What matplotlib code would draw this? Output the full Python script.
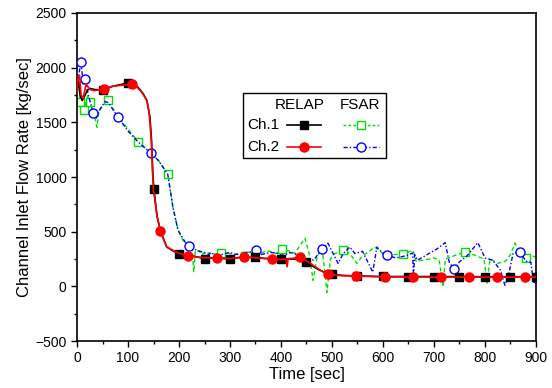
import numpy as np
from matplotlib import pyplot as plt
from matplotlib.lines import Line2D
from matplotlib.patches import Rectangle

plt.rcParams['font.family'] = ['Liberation Sans', 'DejaVu Sans']

# RELAP Ch.1 (black)
t_relap1 = [0, 3, 6, 10, 15, 20, 25, 35, 50, 70, 90, 100, 110, 120, 130, 137, 143, 146, 149, 151, 157,
            164, 176, 190, 200, 215, 230, 250, 270, 300, 320, 350, 370, 398, 420, 435, 449, 460, 475,
            490, 500, 520, 550, 600, 700, 800, 900]
v_relap1 = [1800, 1870, 1750, 1700, 1740, 1790, 1810, 1800, 1795, 1830, 1850, 1860, 1845, 1820, 1760,
            1700, 1550, 1350, 1000, 880, 640, 500, 360, 320, 300, 280, 275, 255, 260, 250, 265, 265,
            255, 250, 250, 245, 225, 190, 150, 120, 110, 100, 95, 90, 90, 88, 88]
tm_relap1 = [50, 100, 150, 200, 250, 300, 350, 400, 450, 500, 550, 600, 650, 700, 750, 800, 850, 900]
vm_relap1 = [1800, 1860, 890, 300, 250, 250, 265, 250, 225, 113, 95, 92, 90, 90, 90, 90, 88, 88]

# RELAP Ch.2 (red)
t_relap2 = [0, 2, 5, 8, 12, 18, 25, 35, 51, 70, 90, 108, 118, 127, 137, 141, 143, 146, 148, 150, 157,
            164, 176, 198, 218, 240, 274, 300, 326, 350, 382, 400, 410, 412, 414, 420, 437, 455, 470,
            485, 492, 510, 549, 600, 700, 800, 900]
v_relap2 = [1780, 1900, 1930, 1750, 1720, 1850, 1800, 1790, 1805, 1830, 1840, 1850, 1820, 1775, 1700,
            1600, 1500, 1300, 1050, 880, 640, 497, 360, 305, 277, 265, 258, 255, 268, 262, 250, 245,
            250, 180, 255, 255, 268, 220, 170, 125, 113, 100, 94, 87, 85, 85, 85]
tm_relap2 = [52, 108, 163, 218, 274, 328, 383, 438, 493, 548, 603, 658, 713, 768, 823, 878]
vm_relap2 = [1805, 1850, 510, 277, 258, 268, 250, 268, 113, 94, 87, 85, 85, 85, 85, 85]

# FSAR Ch.1 (green)
t_fsar1 = [0, 3, 6, 10, 14, 18, 22, 25, 30, 35, 39, 43, 50, 61, 80, 100, 120, 145, 160, 178, 188, 198,
           210, 220, 226, 229, 232, 240, 245, 252, 260, 268, 282, 290, 300, 310, 320, 330, 340, 350,
           360, 370, 380, 390, 402, 410, 420, 428, 435, 447, 455, 463, 470, 480, 490, 497, 505, 515,
           522, 535, 549, 560, 571, 584, 600, 620, 640, 659, 665, 680, 700, 710, 718, 722, 740, 761,
           780, 798, 804, 810, 825, 840, 850, 859, 868, 881, 890, 900]
v_fsar1 = [1800, 1900, 1685, 1720, 1610, 1700, 1750, 1685, 1620, 1550, 1455, 1600, 1650, 1700, 1550,
           1440, 1320, 1218, 1150, 1025, 725, 515, 400, 360, 340, 130, 330, 320, 290, 320, 300, 295,
           305, 320, 300, 290, 305, 315, 310, 295, 300, 325, 320, 300, 343, 330, 320, 300, 360, 440,
           300, 55, 250, 380, -55, 250, 300, 310, 332, 300, 210, 280, 315, 360, 300, 290, 296, 330,
           230, 240, 260, 240, -5, 250, 280, 315, 285, 250, 30, 250, 210, 230, 290, 395, 300, 258,
           280, 270]
tm_fsar1 = [6, 14, 25, 61, 120, 178, 282, 402, 522, 640, 761, 881]
vm_fsar1 = [1685, 1610, 1685, 1700, 1320, 1025, 305, 343, 332, 296, 315, 258]

# FSAR Ch.2 (blue)
t_fsar2 = [0, 4, 8, 12, 16, 22, 28, 32, 38, 45, 55, 62, 70, 80, 100, 120, 145, 160, 178, 188, 198,
           212, 220, 235, 242, 250, 258, 262, 270, 280, 290, 300, 310, 320, 330, 340, 351, 360, 370,
           380, 390, 400, 410, 418, 425, 432, 440, 455, 465, 472, 480, 492, 500, 512, 522, 535, 545,
           560, 580, 588, 600, 608, 625, 645, 658, 660, 662, 668, 690, 705, 722, 730, 739, 750, 765,
           786, 800, 815, 830, 839, 847, 855, 869, 880, 890, 895, 900]
v_fsar2 = [1870, 1950, 2050, 1850, 1900, 1750, 1650, 1585, 1540, 1620, 1690, 1680, 1620, 1550, 1420,
           1320, 1218, 1150, 1025, 725, 515, 405, 365, 330, 320, 305, 290, 310, 290, 285, 300, 310,
           295, 290, 310, 315, 330, 290, 300, 310, 305, 285, 290, 310, 300, 290, 260, 230, 245, 290,
           340, 395, 320, 210, 300, 360, 300, 320, 130, 360, 300, 285, 260, 280, 305, 75, 290, 240,
           300, 340, 400, 220, 158, 225, 280, 400, 260, 240, 150, 10, 120, 300, 315, 230, 220, 40, 30]
tm_fsar2 = [8, 16, 32, 80, 145, 220, 351, 480, 608, 739, 869]
vm_fsar2 = [2050, 1900, 1585, 1550, 1218, 365, 330, 340, 285, 158, 315]

colors = ['k', '#ff0000', '#00e000', '#0000ff']

fig = plt.figure(figsize=(5.52, 3.88), dpi=100)
ax = fig.add_axes([0.1395, 0.121, 0.8315, 0.8455])

ax.plot(t_fsar1, v_fsar1, color=colors[2], lw=1.0, dashes=(3, 2), zorder=2)
ax.plot(tm_fsar1, vm_fsar1, ls='none', marker='s', ms=6, mfc='w', mec=colors[2], mew=1.0, zorder=2)
ax.plot(t_fsar2, v_fsar2, color=colors[3], lw=1.0, dashes=(3, 1.5, 1, 1.5), zorder=3)
ax.plot(tm_fsar2, vm_fsar2, ls='none', marker='o', ms=6.5, mfc='w', mec=colors[3], mew=1.0, zorder=3)
ax.plot(t_relap1, v_relap1, color=colors[0], lw=1.2, zorder=4)
ax.plot(tm_relap1, vm_relap1, ls='none', marker='s', ms=5.5, color=colors[0], zorder=4)
ax.plot(t_relap2, v_relap2, color=colors[1], lw=1.2, zorder=5)
ax.plot(tm_relap2, vm_relap2, ls='none', marker='o', ms=6.5, color=colors[1], zorder=5)

ax.set_xlim(0, 900)
ax.set_ylim(-500, 2500)
ax.set_xticks(np.arange(0, 901, 100))
ax.set_xticks(np.arange(0, 901, 50), minor=True)
ax.set_yticks(np.arange(-500, 2501, 500))
ax.set_yticks(np.arange(-500, 2501, 250), minor=True)
ax.tick_params(which='major', direction='out', length=4, width=1, labelsize=10)
ax.tick_params(which='minor', direction='out', length=2.5, width=1)
for s in ax.spines.values():
    s.set_linewidth(1.2)
ax.set_xlabel('Time [sec]', fontsize=12, labelpad=1)
ax.set_ylabel('Channel Inlet Flow Rate [kg/sec]', fontsize=12, labelpad=2)

# Custom legend
tr = ax.transAxes
ax.add_patch(Rectangle((0.362, 0.558), 0.311, 0.198, transform=tr, fill=True, fc='w', ec='k',
                       lw=1.0, zorder=10))
ax.text(0.485, 0.72, 'RELAP', transform=tr, ha='center', va='center', fontsize=11, zorder=11)
ax.text(0.617, 0.72, 'FSAR', transform=tr, ha='center', va='center', fontsize=11, zorder=11)
ax.text(0.370, 0.658, 'Ch.1', transform=tr, ha='left', va='center', fontsize=11, zorder=11)
ax.text(0.370, 0.592, 'Ch.2', transform=tr, ha='left', va='center', fontsize=11, zorder=11)
leg_items = [
    (0.458, 0.531, 0.658, dict(color=colors[0], lw=1.2), dict(marker='s', ms=5.5, color=colors[0])),
    (0.458, 0.531, 0.592, dict(color=colors[1], lw=1.2), dict(marker='o', ms=6.5, color=colors[1])),
    (0.580, 0.657, 0.658, dict(color=colors[2], lw=1.0, dashes=(2, 1.5)),
     dict(marker='s', ms=6, mfc='w', mec=colors[2], mew=1.0)),
    (0.580, 0.657, 0.592, dict(color=colors[3], lw=1.0, dashes=(3, 1.5, 1, 1.5)),
     dict(marker='o', ms=6.5, mfc='w', mec=colors[3], mew=1.0)),
]
for x0, x1, y, lkw, mkw in leg_items:
    ax.add_line(Line2D([x0, x1], [y, y], transform=tr, zorder=11, **lkw))
    ax.add_line(Line2D([(x0 + x1) / 2], [y], transform=tr, ls='none', zorder=12, **mkw))

plt.savefig('out.png', dpi=100)
